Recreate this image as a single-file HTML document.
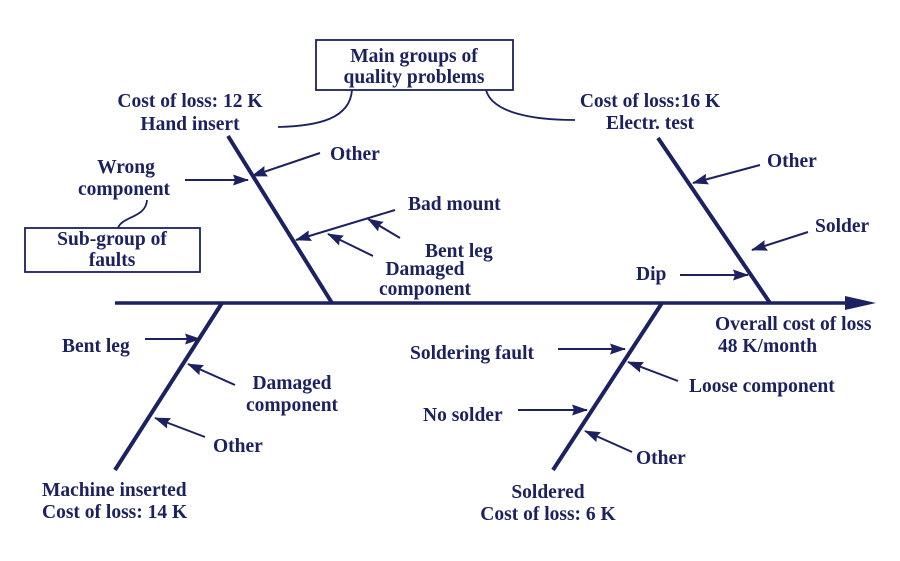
<!DOCTYPE html>
<html><head><style>
html,body{margin:0;padding:0;background:#fff;}
svg{display:block;}
text{font-family:"Liberation Serif",serif;font-weight:bold;font-size:19.5px;fill:#1c2160;}
</style></head><body>
<svg width="900" height="561" viewBox="0 0 900 561">
<defs>
<marker id="a" markerWidth="16" markerHeight="12" refX="15" refY="6" orient="auto" markerUnits="userSpaceOnUse">
<path d="M0,0.5 L16,6 L0,11.5 L2,6 Z" fill="#1c2160"/>
</marker>
</defs>
<g stroke="#1c2160" fill="none">
<line x1="115" y1="303" x2="848" y2="303" stroke-width="3.5"/>
<path d="M845,296 L876,303 L845,310 Z" fill="#1c2160" stroke="none"/>
<line x1="228" y1="136" x2="332" y2="303" stroke-width="4"/>
<line x1="658" y1="138" x2="770" y2="303" stroke-width="4"/>
<line x1="222" y1="303" x2="115" y2="470" stroke-width="4"/>
<line x1="662" y1="303" x2="553" y2="470" stroke-width="4"/>
<g stroke-width="2" marker-end="url(#a)">
<line x1="320" y1="153" x2="252" y2="176"/>
<line x1="185" y1="180" x2="248" y2="180"/>
<line x1="395" y1="210" x2="296" y2="240"/>
<line x1="400" y1="238" x2="368" y2="219"/>
<line x1="373" y1="256" x2="328" y2="234"/>
<line x1="760" y1="165" x2="693" y2="183"/>
<line x1="808" y1="232" x2="752" y2="250"/>
<line x1="680" y1="275" x2="748" y2="275"/>
<line x1="145" y1="339" x2="200" y2="339"/>
<line x1="235" y1="385" x2="188" y2="364"/>
<line x1="205" y1="437" x2="155" y2="418"/>
<line x1="558" y1="349" x2="625" y2="349"/>
<line x1="678" y1="381" x2="628" y2="362"/>
<line x1="518" y1="410" x2="587" y2="410"/>
<line x1="632" y1="452" x2="585" y2="431"/>
</g>
<g stroke-width="1.8">
<rect x="316" y="40" width="197" height="50"/>
<rect x="25" y="228" width="175" height="44"/>
<path d="M352,90 C350,118 320,126 278,127"/>
<path d="M486,90 C492,112 530,120 575,120"/>
<path d="M147,200 C146,218 122,216 118,228"/>
</g>
</g>
<text x="414" y="62" text-anchor="middle">Main groups of</text>
<text x="414" y="83" text-anchor="middle">quality problems</text>
<text x="190" y="107" text-anchor="middle">Cost of loss: 12 K</text>
<text x="190" y="130" text-anchor="middle">Hand insert</text>
<text x="650" y="107" text-anchor="middle">Cost of loss:16 K</text>
<text x="650" y="129" text-anchor="middle">Electr. test</text>
<text x="330" y="160">Other</text>
<text x="126" y="173" text-anchor="middle">Wrong</text>
<text x="124" y="195" text-anchor="middle">component</text>
<text x="112" y="245" text-anchor="middle">Sub-group of</text>
<text x="112" y="266" text-anchor="middle">faults</text>
<text x="408" y="210">Bad mount</text>
<text x="425" y="257">Bent leg</text>
<text x="425" y="275" text-anchor="middle">Damaged</text>
<text x="425" y="295" text-anchor="middle">component</text>
<text x="767" y="167">Other</text>
<text x="815" y="232">Solder</text>
<text x="636" y="280">Dip</text>
<text x="715" y="330">Overall cost of loss</text>
<text x="718" y="352">48 K/month</text>
<text x="62" y="352">Bent leg</text>
<text x="292" y="389" text-anchor="middle">Damaged</text>
<text x="292" y="411" text-anchor="middle">component</text>
<text x="213" y="452">Other</text>
<text x="42" y="496">Machine inserted</text>
<text x="42" y="518">Cost of loss: 14 K</text>
<text x="410" y="359">Soldering fault</text>
<text x="689" y="392">Loose component</text>
<text x="423" y="421">No solder</text>
<text x="636" y="464">Other</text>
<text x="548" y="498" text-anchor="middle">Soldered</text>
<text x="548" y="520" text-anchor="middle">Cost of loss: 6 K</text>
</svg>
</body></html>
